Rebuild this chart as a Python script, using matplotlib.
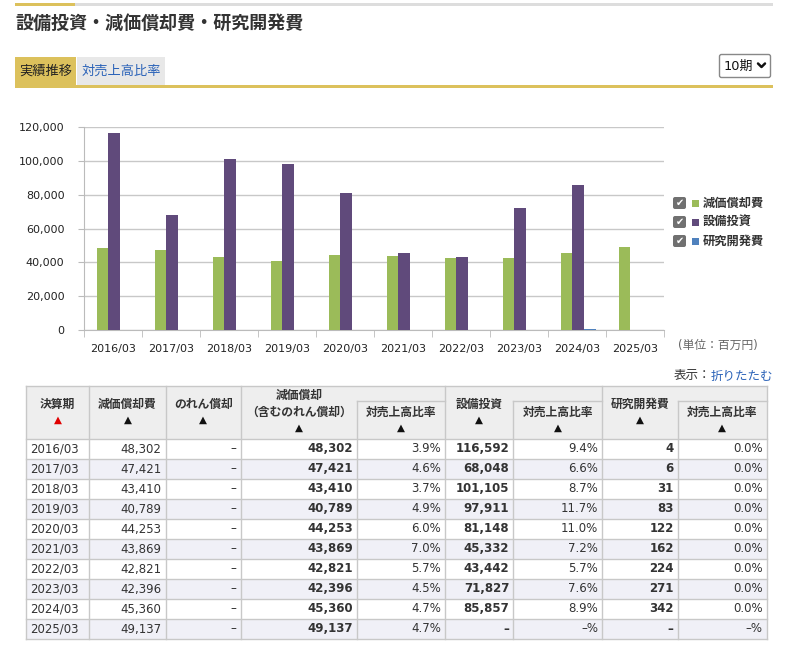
import matplotlib
matplotlib.use('Agg')
import matplotlib.pyplot as plt
from matplotlib.patches import Rectangle, FancyBboxPatch
import numpy as np

plt.rcParams['font.family'] = ['DejaVu Sans', 'Noto Sans CJK JP']

# data
periods = ['2016/03', '2017/03', '2018/03', '2019/03', '2020/03',
           '2021/03', '2022/03', '2023/03', '2024/03', '2025/03']
depreciation = [48302, 47421, 43410, 40789, 44253, 43869, 42821, 42396, 45360, 49137]
capex = [116592, 68048, 101105, 97911, 81148, 45332, 43442, 71827, 85857, None]
rnd = [4, 6, 31, 83, 122, 162, 224, 271, 342, None]
dep_ratio = [3.9, 4.6, 3.7, 4.9, 6.0, 7.0, 5.7, 4.5, 4.7, 4.7]
capex_ratio = [9.4, 6.6, 8.7, 11.7, 11.0, 7.2, 5.7, 7.6, 8.9, None]
rnd_ratio = [0.0, 0.0, 0.0, 0.0, 0.0, 0.0, 0.0, 0.0, 0.0, None]

series_names = ['減価償却費', '設備投資', '研究開発費']
series_colors = ['#9bbb59', '#604a7b', '#4f81bd']

W, H = 808, 663
GOLD = '#dcc15c'
TXT = '#333333'
BLUE = '#2a62b8'
LINE = '#c8c8c8'

fig = plt.figure(figsize=(W / 100, H / 100), dpi=100)
fig.patch.set_facecolor('white')

# page overlay in pixel coords
page = fig.add_axes([0, 0, 1, 1])
page.set_xlim(0, W)
page.set_ylim(H, 0)
page.axis('off')

# top rule and title
page.add_patch(Rectangle((15, 3), 60, 3, fc=GOLD, ec='none'))
page.add_patch(Rectangle((75, 3), 698, 3, fc='#dddddd', ec='none'))
page.text(15, 24, '設備投資・減価償却費・研究開発費', fontsize=13, fontweight='bold',
          va='center', ha='left', color=TXT)

# tabs
page.add_patch(Rectangle((15, 57), 61, 28, fc=GOLD, ec='none'))
page.add_patch(Rectangle((77, 57), 88, 28, fc='#e8e8e8', ec='none'))
page.add_patch(Rectangle((15, 85), 758, 3, fc=GOLD, ec='none'))
page.text(45.5, 71, '実績推移', fontsize=9.5, ha='center', va='center', color='#222')
page.text(121, 71, '対売上高比率', fontsize=9.5, ha='center', va='center', color=BLUE)

# period selector
page.add_patch(FancyBboxPatch((719.5, 54.5), 51, 23, boxstyle='round,pad=0,rounding_size=2',
                              fc='white', ec='#888888', lw=1))
page.text(723.5, 66, '10期', fontsize=9.3, ha='left', va='center', color='#111')
page.plot([758, 761.5, 765], [63.5, 67, 63.5], color='#111', lw=1.8, solid_capstyle='round')

# chart
ax = fig.add_axes([84 / W, 1 - 330 / H, 580 / W, 203 / H])
x = np.arange(len(periods))
bw = 0.2
for k, vals in enumerate([depreciation, capex, rnd]):
    v = np.array(vals, dtype=float)
    ax.bar(x + (k - 1) * bw + 0.02, v, bw, color=series_colors[k], zorder=3)

ax.set_xlim(-0.5, len(periods) - 0.5)
ax.set_ylim(0, 120000)
ax.set_yticks(range(0, 120001, 20000))
ax.set_yticklabels(['{:,}'.format(t) for t in range(0, 120001, 20000)])
ax.yaxis.grid(True, color=LINE, lw=1)
ax.set_axisbelow(True)
ax.set_xticks(x)
ax.set_xticklabels(periods)
ax.set_xticks(np.arange(-0.5, len(periods)), minor=True)
ax.tick_params(axis='x', which='major', length=0, labelsize=8, pad=10, labelcolor='#222')
ax.tick_params(axis='x', which='minor', length=5, color='#bbbbbb')
ax.tick_params(axis='y', length=4, color='#bbbbbb', labelsize=8, pad=10, labelcolor='#222')
for s in ['top', 'right']:
    ax.spines[s].set_visible(False)
for s in ['left', 'bottom']:
    ax.spines[s].set_color('#bbbbbb')

# legend
for k, name in enumerate(series_names):
    cy = 203 + 19 * k
    page.add_patch(FancyBboxPatch((673, cy - 6), 13, 12, boxstyle='round,pad=0,rounding_size=2',
                                  fc='#707070', ec='none'))
    page.text(679.5, cy, '✔', fontsize=7, color='white', ha='center', va='center',
              family='DejaVu Sans')
    page.add_patch(Rectangle((692, cy - 3.5), 7, 7, fc=series_colors[k], ec='none'))
    page.text(703, cy, name, fontsize=8.8, fontweight='bold', ha='left', va='center', color=TXT)

page.text(678, 345, '(単位：百万円)', fontsize=8.5, ha='left', va='center', color='#666666')
page.text(773, 376, '折りたたむ', fontsize=9, ha='right', va='center', color=BLUE)
page.text(711, 376, '表示：', fontsize=9, ha='right', va='center', color=TXT)

# table
cols = [25.7, 89.3, 165.7, 240.7, 356.7, 445, 513.3, 602.3, 677.7, 766.7]
t_top, t_mid, t_head = 386, 401, 439
row_h = 20
n = len(periods)
t_bot = t_head + row_h * n

page.add_patch(Rectangle((cols[0], t_top), cols[-1] - cols[0], t_head - t_top,
                         fc='#eeeeee', ec='none'))
for i in range(n):
    fc = '#f0f0f7' if i % 2 == 1 else 'white'
    page.add_patch(Rectangle((cols[0], t_head + i * row_h), cols[-1] - cols[0], row_h,
                             fc=fc, ec='none'))

for yy in [t_top] + [t_head + i * row_h for i in range(n + 1)]:
    page.plot([cols[0], cols[-1]], [yy, yy], color=LINE, lw=1)
for a, b in [(4, 5), (6, 7), (8, 9)]:
    page.plot([cols[a], cols[b]], [t_mid, t_mid], color=LINE, lw=1)
for j, cx in enumerate(cols):
    top = t_mid if j in (4, 6, 8) else t_top
    page.plot([cx, cx], [top, t_bot], color=LINE, lw=1)

def ctr(j):
    return (cols[j] + cols[j + 1]) / 2

hfs = 8.5
single = {0: '決算期', 1: '減価償却費', 2: 'のれん償却', 5: '設備投資', 7: '研究開発費'}
for j, lab in single.items():
    page.text(ctr(j), 404, lab, fontsize=hfs, fontweight='bold', ha='center', va='center', color=TXT)
    page.text(ctr(j), 420, '▲', fontsize=7.5, ha='center', va='center',
              color='#e00000' if j == 0 else '#111')
page.text(ctr(3), 395, '減価償却', fontsize=hfs, fontweight='bold', ha='center', va='center', color=TXT)
page.text(ctr(3), 412, '（含むのれん償却）', fontsize=hfs, fontweight='bold', ha='center', va='center', color=TXT)
page.text(ctr(3), 428, '▲', fontsize=7.5, ha='center', va='center', color='#111')
for j in (4, 6, 8):
    page.text(ctr(j), 412, '対売上高比率', fontsize=hfs, fontweight='bold', ha='center', va='center', color=TXT)
    page.text(ctr(j), 428, '▲', fontsize=7.5, ha='center', va='center', color='#111')

def num(v):
    return '–' if v is None else '{:,}'.format(v)

def pct(v):
    return '–%' if v is None else '{:.1f}%'.format(v)

dfs = 8.5
for i in range(n):
    cy = t_head + i * row_h + row_h / 2
    page.text(cols[0] + 4, cy, periods[i], fontsize=dfs, ha='left', va='center', color=TXT)
    cells = [(num(depreciation[i]), 'normal'), ('–', 'normal'), (num(depreciation[i]), 'bold'),
             (pct(dep_ratio[i]), 'normal'), (num(capex[i]), 'bold'), (pct(capex_ratio[i]), 'normal'),
             (num(rnd[i]), 'bold'), (pct(rnd_ratio[i]), 'normal')]
    for j, (s, w) in enumerate(cells, start=1):
        page.text(cols[j + 1] - 4, cy, s, fontsize=dfs, fontweight=w, ha='right', va='center', color=TXT)

fig.savefig('out.png', dpi=100, facecolor='white')
